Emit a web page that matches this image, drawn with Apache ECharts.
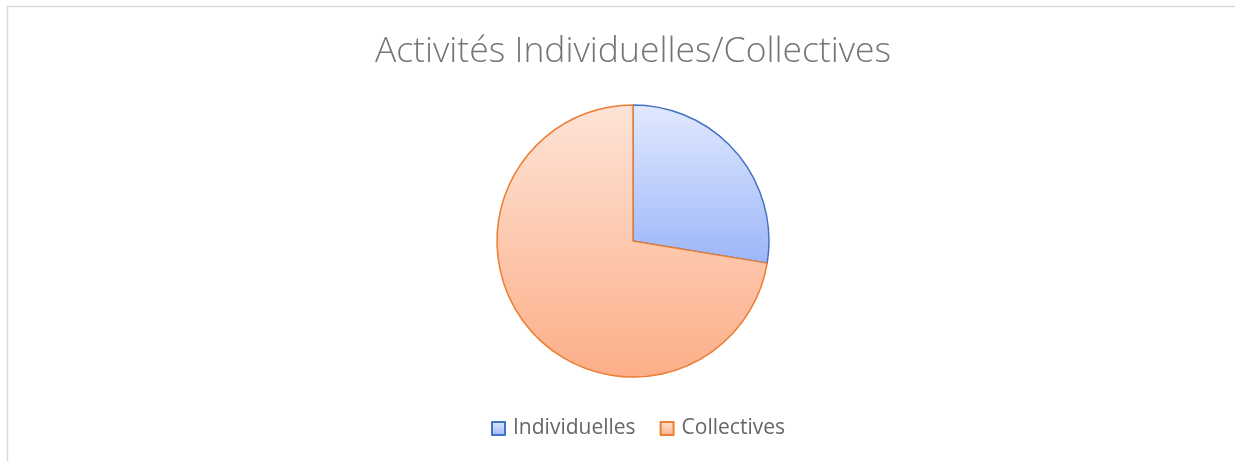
<!DOCTYPE html>
<html>
<head>
<meta charset="utf-8">
<script src="https://cdn.jsdelivr.net/npm/echarts@6/dist/echarts.min.js"></script>
<style>
  html, body { margin: 0; padding: 0; background: #fff; }
  #main { width: 1235px; height: 461px; }
</style>
</head>
<body>
<div id="main"></div>
<script>
// donnees du graphique
var categories = ['Individuelles', 'Collectives'];
var values = [27.6, 72.4];

var fills = [
  ['#e1e9fe', '#9db6f9'],
  ['#fee4d7', '#fcae88']
];
var borders = ['#4472c4', '#ed7d31'];

var chart = echarts.init(document.getElementById('main'));

var pieData = categories.map(function (name, i) {
  return {
    name: name,
    value: values[i],
    itemStyle: {
      color: new echarts.graphic.LinearGradient(0, 0, 0, 1, [
        { offset: 0, color: fills[i][0] },
        { offset: 1, color: fills[i][1] }
      ]),
      borderColor: borders[i],
      borderWidth: 1.5
    }
  };
});

var option = {
  backgroundColor: '#fff',
  animation: false,
  title: {
    text: 'Activités Individuelles/Collectives',
    left: 633,
    textAlign: 'center',
    top: 34,
    padding: 0,
    textStyle: {
      fontFamily: 'Open Sans',
      fontWeight: 300,
      fontSize: 35.5,
      color: '#757575'
    }
  },
  legend: {
    data: categories,
    top: 418,
    left: 491,
    padding: 0,
    icon: 'rect',
    itemWidth: 13,
    itemHeight: 13,
    itemGap: 24,
    textStyle: {
      fontFamily: 'Open Sans',
      fontSize: 21,
      color: '#666666',
      padding: [0, 0, 0, 3]
    }
  },
  graphic: [{
    type: 'rect',
    shape: { x: 7.5, y: 6.5, width: 1240, height: 470 },
    style: { fill: 'none', stroke: '#d9d9d9', lineWidth: 1.5 },
    silent: true
  }],
  series: [{
    type: 'pie',
    center: [633, 241],
    radius: 136,
    startAngle: 90,
    clockwise: true,
    label: { show: false },
    labelLine: { show: false },
    emphasis: { disabled: true },
    data: pieData
  }]
};

chart.setOption(option);
</script>
</body>
</html>
